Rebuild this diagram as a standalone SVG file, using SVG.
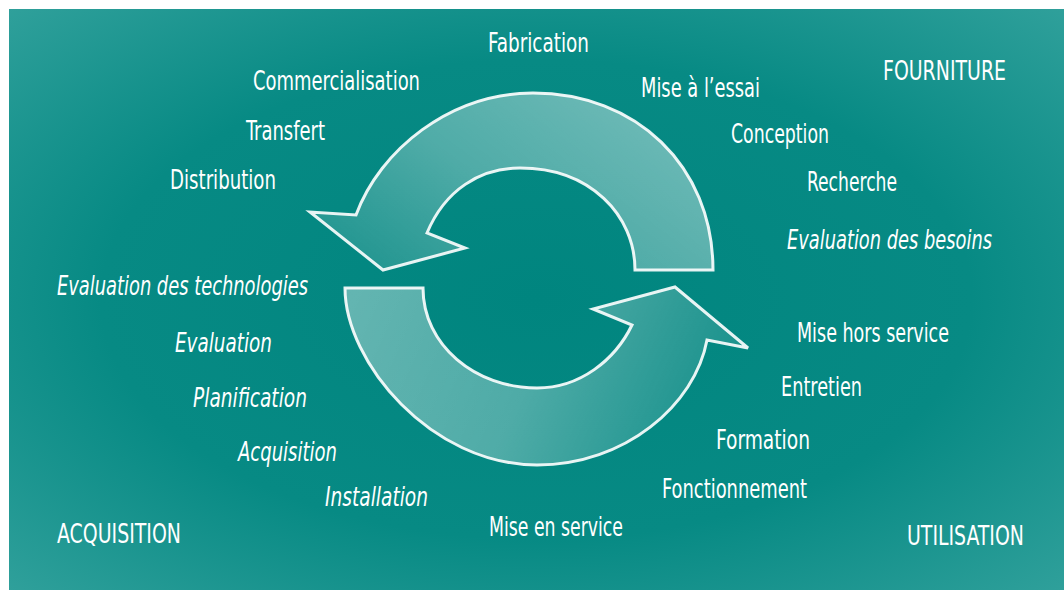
<svg xmlns="http://www.w3.org/2000/svg" width="1064" height="590" viewBox="0 0 1064 590">
<defs>
<radialGradient id="bg" cx="0.5" cy="0.5" r="0.75">
<stop offset="0" stop-color="#00857f"/>
<stop offset="0.55" stop-color="#078a84"/>
<stop offset="1" stop-color="#35a39e"/>
</radialGradient>
<linearGradient id="gUp" x1="1" y1="0.3" x2="0" y2="0.9">
<stop offset="0" stop-color="#ffffff" stop-opacity="0.42"/>
<stop offset="0.5" stop-color="#ffffff" stop-opacity="0.3"/>
<stop offset="1" stop-color="#ffffff" stop-opacity="0.1"/>
</linearGradient>
<linearGradient id="gDown" x1="0" y1="0.2" x2="1" y2="0.4">
<stop offset="0" stop-color="#ffffff" stop-opacity="0.38"/>
<stop offset="0.5" stop-color="#ffffff" stop-opacity="0.3"/>
<stop offset="1" stop-color="#ffffff" stop-opacity="0.08"/>
</linearGradient>
<filter id="soft" x="-5%" y="-5%" width="110%" height="110%">
<feGaussianBlur stdDeviation="0.6"/>
</filter>
</defs>
<style>
.t{font-family:"Liberation Sans Narrow","DejaVu Sans Condensed","Liberation Sans",sans-serif;font-size:26px;fill:#ffffff;}
.i{font-style:italic;}
.arrow{stroke:#ffffff;stroke-width:3;stroke-opacity:0.9;stroke-linejoin:miter;}
</style>
<rect x="9" y="9" width="1055" height="581" fill="url(#bg)"/>
<g id="connectors">
<path id="arrow-upper" class="arrow" fill="url(#gUp)" filter="url(#soft)" d="M713,270 C713,165 635,93 533,93 C450,93 380,150 356,215 L310,212 L383,270 L465,248 L427,233 C445,190 480,168 520,168 C590,168 635,215 635,270 Z"/>
<path id="arrow-lower" class="arrow" fill="url(#gDown)" filter="url(#soft)" d="M345,288 L423,288 C423,345 475,388 537,388 C580,388 615,360 632,325 L593,309 L675,287 L748,348 L707,340 C695,405 625,465 537,465 C431,465 345,362 345,288 Z"/>
</g>
<g id="node-fabrication"><text class="t" x="488" y="52" textLength="101" lengthAdjust="spacingAndGlyphs">Fabrication</text></g>
<g id="node-commercialisation"><text class="t" x="253" y="90" textLength="167" lengthAdjust="spacingAndGlyphs">Commercialisation</text></g>
<g id="node-mise-essai"><text class="t" x="641" y="97" textLength="119" lengthAdjust="spacingAndGlyphs">Mise à l’essai</text></g>
<g id="node-fourniture"><text class="t" x="883" y="80" textLength="123" lengthAdjust="spacingAndGlyphs">FOURNITURE</text></g>
<g id="node-transfert"><text class="t" x="246" y="140" textLength="79" lengthAdjust="spacingAndGlyphs">Transfert</text></g>
<g id="node-conception"><text class="t" x="731" y="143" textLength="98" lengthAdjust="spacingAndGlyphs">Conception</text></g>
<g id="node-distribution"><text class="t" x="170" y="189" textLength="106" lengthAdjust="spacingAndGlyphs">Distribution</text></g>
<g id="node-recherche"><text class="t" x="807" y="191" textLength="90" lengthAdjust="spacingAndGlyphs">Recherche</text></g>
<g id="node-eval-besoins"><text class="t i" x="787" y="249" textLength="205" lengthAdjust="spacingAndGlyphs">Evaluation des besoins</text></g>
<g id="node-eval-technologies"><text class="t i" x="57" y="295" textLength="251" lengthAdjust="spacingAndGlyphs">Evaluation des technologies</text></g>
<g id="node-mise-hors-service"><text class="t" x="797" y="342" textLength="152" lengthAdjust="spacingAndGlyphs">Mise hors service</text></g>
<g id="node-evaluation"><text class="t i" x="175" y="352" textLength="97" lengthAdjust="spacingAndGlyphs">Evaluation</text></g>
<g id="node-entretien"><text class="t" x="781" y="396" textLength="81" lengthAdjust="spacingAndGlyphs">Entretien</text></g>
<g id="node-planification"><text class="t i" x="193" y="407" textLength="114" lengthAdjust="spacingAndGlyphs">Planification</text></g>
<g id="node-formation"><text class="t" x="716" y="449" textLength="94" lengthAdjust="spacingAndGlyphs">Formation</text></g>
<g id="node-acquisition"><text class="t i" x="238" y="461" textLength="99" lengthAdjust="spacingAndGlyphs">Acquisition</text></g>
<g id="node-fonctionnement"><text class="t" x="662" y="498" textLength="145" lengthAdjust="spacingAndGlyphs">Fonctionnement</text></g>
<g id="node-installation"><text class="t i" x="325" y="506" textLength="103" lengthAdjust="spacingAndGlyphs">Installation</text></g>
<g id="node-mise-en-service"><text class="t" x="489" y="536" textLength="134" lengthAdjust="spacingAndGlyphs">Mise en service</text></g>
<g id="node-acquisition-phase"><text class="t" x="57" y="543" textLength="124" lengthAdjust="spacingAndGlyphs">ACQUISITION</text></g>
<g id="node-utilisation"><text class="t" x="907" y="545" textLength="117" lengthAdjust="spacingAndGlyphs">UTILISATION</text></g>
</svg>
